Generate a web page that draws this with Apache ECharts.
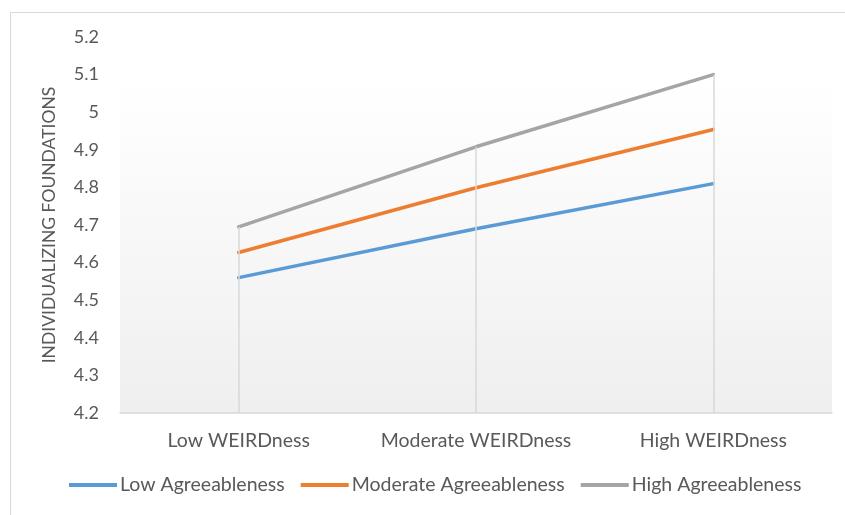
<!DOCTYPE html>
<html>
<head>
<meta charset="utf-8">
<script src="https://cdn.jsdelivr.net/npm/echarts@6/dist/echarts.min.js"></script>
<style>
  html, body { margin: 0; padding: 0; background: #ffffff; }
  #chart { width: 845px; height: 515px; }
</style>
</head>
<body>
<div id="chart"></div>
<script>
// Categories along the x axis
const categories = ['Low WEIRDness', 'Moderate WEIRDness', 'High WEIRDness'];

// Mean individualizing foundations per agreeableness level
const lowAgreeableness = [4.56, 4.69, 4.81];
const moderateAgreeableness = [4.627, 4.799, 4.954];
const highAgreeableness = [4.695, 4.908, 5.10];

const seriesNames = ['Low Agreeableness', 'Moderate Agreeableness', 'High Agreeableness'];
const seriesColors = ['#5b9bd5', '#ed7d31', '#a5a5a5'];

// Y axis range
const yMin = 4.2;
const yMax = 5.2;
const yStep = 0.1;

const FONT = 'Lato, "Open Sans", sans-serif';
const TEXT = '#595959';

const allSeries = [lowAgreeableness, moderateAgreeableness, highAgreeableness];

// Vertical drop lines from the highest value at each category down to the axis
const dropLines = categories.map((c, i) => {
  const top = Math.max(...allSeries.map(s => s[i]));
  return [{ coord: [c, top] }, { coord: [c, yMin] }];
});

const chart = echarts.init(document.getElementById('chart'), null, { renderer: 'canvas' });

chart.setOption({
  animation: false,
  backgroundColor: '#ffffff',
  graphic: [{
    type: 'rect',
    shape: { x: 10.5, y: 12.5, width: 860, height: 520 },
    style: { fill: 'none', stroke: '#d9d9d9', lineWidth: 1 },
    silent: true, z: -1
  }],
  grid: {
    left: 120, right: 13, top: 37, bottom: 102,
    show: true,
    borderWidth: 0,
    backgroundColor: new echarts.graphic.LinearGradient(0, 0, 0, 1, [
      { offset: 0, color: '#ffffff' },
      { offset: 0.12, color: '#ffffff' },
      { offset: 1, color: '#efefef' }
    ])
  },
  legend: {
    data: seriesNames,
    bottom: 15,
    left: 64,
    itemWidth: 48,
    itemHeight: 4,
    itemGap: 16,
    icon: 'rect',
    textStyle: { color: TEXT, fontSize: 19.5, fontFamily: FONT, padding: [0, 0, 0, -2] }
  },
  xAxis: {
    type: 'category',
    data: categories,
    boundaryGap: true,
    axisLine: { lineStyle: { color: '#d9d9d9', width: 1.5 } },
    axisTick: { show: false },
    axisLabel: { color: TEXT, fontSize: 19.5, fontFamily: FONT, margin: 18, interval: 0, hideOverlap: false },
    splitLine: { show: false }
  },
  yAxis: {
    type: 'value',
    min: yMin,
    max: yMax,
    interval: yStep,
    name: 'INDIVIDUALIZING FOUNDATIONS',
    nameLocation: 'middle',
    nameGap: 62,
    nameMoveOverlap: false,
    nameRotate: 90,
    nameTextStyle: { color: TEXT, fontSize: 17.5, fontFamily: FONT },
    axisLine: { show: false },
    axisTick: { show: false },
    splitLine: { show: false },
    axisLabel: {
      color: TEXT, fontSize: 18, fontFamily: FONT, margin: 21,
      formatter: v => String(Math.round(v * 10) / 10)
    }
  },
  series: [
    {
      name: 'drop',
      type: 'line',
      data: [],
      z: 1,
      silent: true,
      markLine: {
        silent: true,
        symbol: 'none',
        label: { show: false },
        lineStyle: { color: '#d9d9d9', width: 1.5, type: 'solid' },
        data: dropLines
      }
    },
    ...seriesNames.map((name, k) => ({
      name,
      type: 'line',
      data: allSeries[k],
      z: 3,
      symbol: 'none',
      color: seriesColors[k],
      lineStyle: { color: seriesColors[k], width: 3.5, cap: 'round' }
    }))
  ]
});
</script>
</body>
</html>
